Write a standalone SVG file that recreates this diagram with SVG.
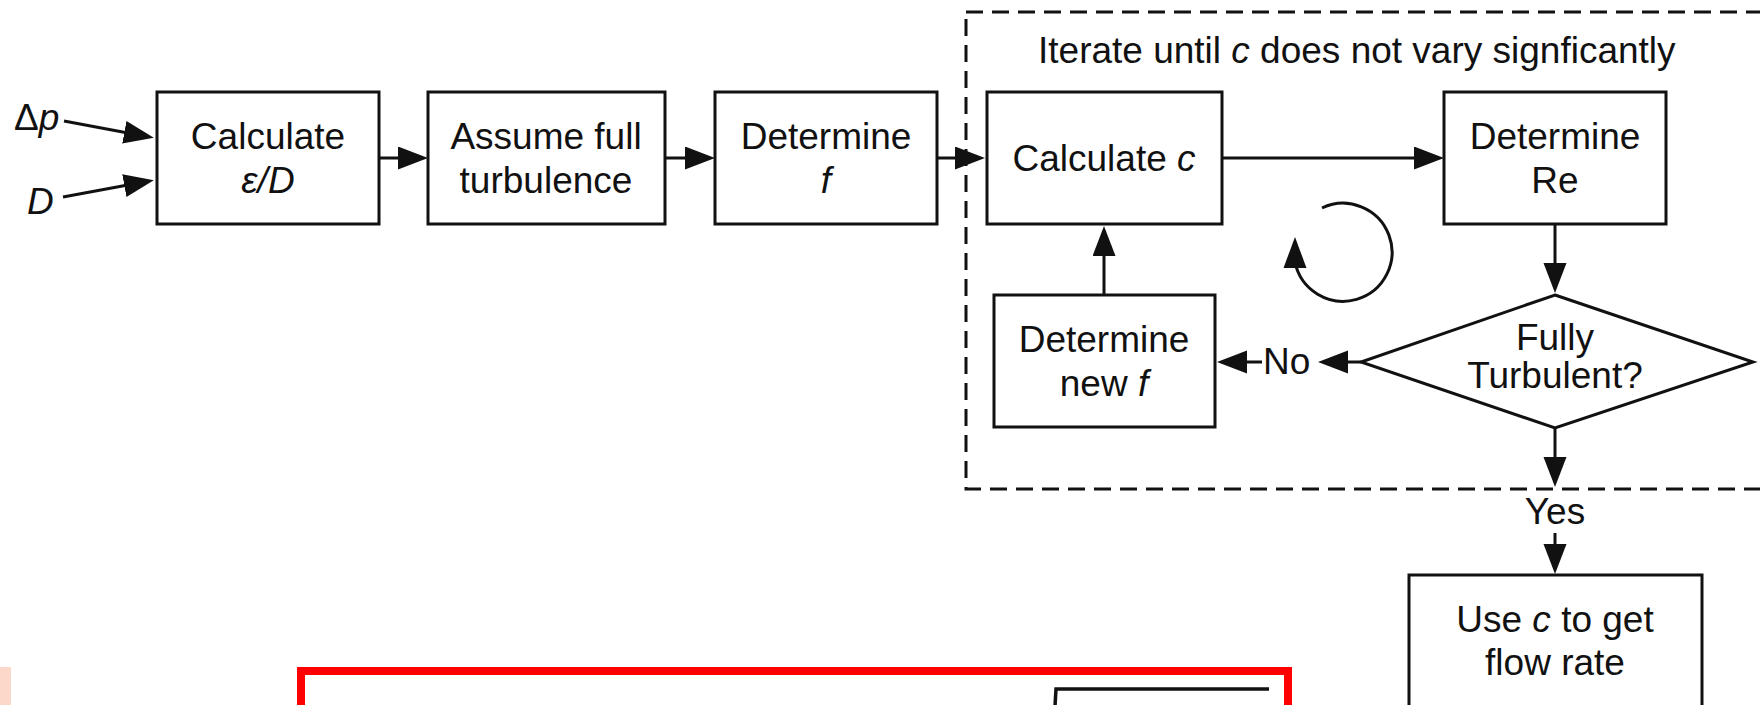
<svg xmlns="http://www.w3.org/2000/svg" width="1760" height="705" viewBox="0 0 1760 705">
<style>
text{font-family:"Liberation Sans",Arial,sans-serif;font-size:37px;fill:#111;}
.c{text-anchor:middle;}
.i{font-style:italic;}
.box{fill:#fff;stroke:#111;stroke-width:3;}
.ln{fill:none;stroke:#111;stroke-width:3;marker-end:url(#ah);}
.dash{fill:none;stroke:#111;stroke-width:3;stroke-dasharray:17 9;}
</style>
<defs>
<marker id="ah" markerUnits="userSpaceOnUse" markerWidth="32" markerHeight="25" refX="20" refY="11.5" orient="auto">
<path d="M0,0 L30,11.5 L0,23 z" fill="#111"/>
</marker>
</defs>
<rect width="1760" height="705" fill="#fff"/>
<g id="loop-frame">
<rect class="dash" x="966" y="12" width="900" height="477"/>
<text x="1038" y="63">Iterate until <tspan class="i">c</tspan> does not vary signficantly</text>
</g>
<g id="connectors">
<path class="ln" d="M64,121 L144,136"/>
<path class="ln" d="M63,197 L144,182"/>
<path class="ln" d="M379,158 L418,158"/>
<path class="ln" d="M665,158 L705,158"/>
<path class="ln" d="M937,158 L975,158"/>
<path class="ln" d="M1222,158 L1434,158"/>
<path class="ln" d="M1104,295 L1104,236"/>
<path class="ln" d="M1555,224 L1555,283"/>
<path class="ln" d="M1361,362 L1328,362"/>
<path class="ln" d="M1262,362 L1227,362"/>
<path class="ln" d="M1555,428 L1555,477"/>
<path class="ln" d="M1555,533 L1555,564"/>
<path fill="none" stroke="#111" stroke-width="3" d="M1322,208 A49,49 0 1 1 1295,262"/>
<path d="M1283.5,268 L1295,237 L1306.5,268 z" fill="#111"/>
</g>
<g id="inputs">
<text x="14" y="130">Δ<tspan class="i">p</tspan></text>
<text class="i" x="27" y="214">D</text>
</g>
<g id="calc-eps">
<rect class="box" x="157" y="92" width="222" height="132"/>
<text class="c" x="268" y="149">Calculate</text>
<text class="c i" x="268" y="193">ε/D</text>
</g>
<g id="assume">
<rect class="box" x="428" y="92" width="237" height="132"/>
<text class="c" x="546" y="149">Assume full</text>
<text class="c" x="546" y="193">turbulence</text>
</g>
<g id="det-f">
<rect class="box" x="715" y="92" width="222" height="132"/>
<text class="c" x="826" y="149">Determine</text>
<text class="c i" x="826" y="193">f</text>
</g>
<g id="calc-c">
<rect class="box" x="987" y="92" width="235" height="132"/>
<text class="c" x="1104" y="171">Calculate <tspan class="i">c</tspan></text>
</g>
<g id="det-re">
<rect class="box" x="1444" y="92" width="222" height="132"/>
<text class="c" x="1555" y="149">Determine</text>
<text class="c" x="1555" y="193">Re</text>
</g>
<g id="det-new-f">
<rect class="box" x="994" y="295" width="221" height="132"/>
<text class="c" x="1104" y="352">Determine</text>
<text class="c" x="1104" y="396">new <tspan class="i">f</tspan></text>
</g>
<g id="decision">
<polygon class="box" points="1555,295 1753,362 1555,428 1361,362"/>
<text class="c" x="1555" y="350">Fully</text>
<text class="c" x="1555" y="388">Turbulent?</text>
</g>
<g id="labels">
<text x="1263" y="374">No</text>
<text class="c" x="1555" y="524">Yes</text>
</g>
<g id="use-c">
<rect class="box" x="1409" y="575" width="293" height="160"/>
<text class="c" x="1555" y="632">Use <tspan class="i">c</tspan> to get</text>
<text class="c" x="1555" y="675">flow rate</text>
</g>
<g id="overlay">
<rect x="0" y="667" width="11" height="40" fill="#fcd8cb"/>
<rect x="301" y="671" width="987" height="100" fill="none" stroke="#ff0000" stroke-width="8"/>
<path d="M1055,706 L1056,689 L1269,689" fill="none" stroke="#111" stroke-width="3.5"/>
</g>
</svg>
